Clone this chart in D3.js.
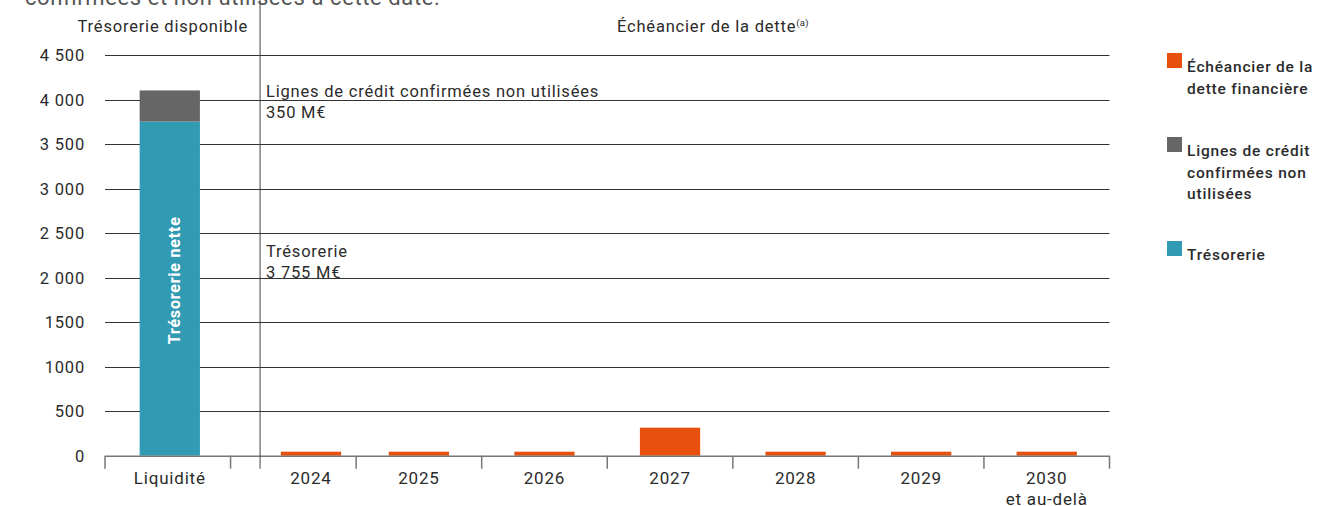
<!DOCTYPE html>
<html>
<head>
<meta charset="utf-8">
<script src="https://cdn.jsdelivr.net/npm/d3@7"></script>
<style>
  body { margin: 0; background: #fff; }
  svg { display: block; font-family: Roboto, "Noto Sans", sans-serif; letter-spacing: 0.8px; }
</style>
</head>
<body>
<svg width="1319" height="506"></svg>
<script>
const svg = d3.select("svg");

// data
const categories = ["Liquidité", "2024", "2025", "2026", "2027", "2028", "2029", "2030"];
const tresorerie = [3755, 0, 0, 0, 0, 0, 0, 0];
const lignesCredit = [350, 0, 0, 0, 0, 0, 0, 0];
const echeancier = [0, 45, 45, 45, 315, 45, 45, 45];
const yTicks = [0, 500, 1000, 1500, 2000, 2500, 3000, 3500, 4000, 4500];
const yTickLabels = ["0", "500", "1000", "1500", "2 000", "2 500", "3 000", "3 500", "4 000", "4 500"];

const orange = "#E8500E", grey = "#666666", teal = "#319BB4", ink = "#2b2b2b";

// scales
const x = d3.scaleBand().domain(categories).range([105, 1109.5]).padding(0);
const y = d3.scaleLinear().domain([0, 4500]).range([455.7, 55.3]);
const sepX = x("2024") + x.bandwidth() * 0.235;   // separator between liquidity and debt schedule
const barW = x.bandwidth() * 0.48;

function center(d) {
  if (d === "2024") return sepX + 0.53 * (x(d) + x.bandwidth() - sepX);
  return x(d) + x.bandwidth() / 2 + (d === "Liquidité" ? 2 : 0);
}

// cut-off text from above
svg.append("text")
  .attr("x", 25).attr("y", 5)
  .attr("font-size", 22).attr("fill", "#555").attr("letter-spacing", 0.6)
  .text("confirmées et non utilisées à cette date.");

// gridlines
svg.append("g").selectAll("line").data(yTicks.filter(d => d > 0)).join("line")
  .attr("x1", x.range()[0]).attr("x2", x.range()[1])
  .attr("y1", d => Math.round(y(d)) + 0.5).attr("y2", d => Math.round(y(d)) + 0.5)
  .attr("stroke", "#333").attr("stroke-width", 1);

// y labels
svg.append("g").selectAll("text").data(yTicks).join("text")
  .attr("x", 85).attr("y", d => y(d) + 6)
  .attr("text-anchor", "end")
  .attr("font-size", 16.5).attr("fill", ink)
  .text((d, i) => yTickLabels[i]);

// stacked liquidity bar
const liq = categories.map((c, i) => ({ c, tres: tresorerie[i], lig: lignesCredit[i] })).filter(d => d.tres > 0);
svg.append("g").selectAll("rect").data(liq).join("rect")
  .attr("x", d => center(d.c) - barW / 2).attr("width", barW)
  .attr("y", d => y(d.tres)).attr("height", d => y(0) - y(d.tres))
  .attr("fill", teal);
svg.append("g").selectAll("rect").data(liq).join("rect")
  .attr("x", d => center(d.c) - barW / 2).attr("width", barW)
  .attr("y", d => y(d.tres + d.lig)).attr("height", d => y(d.tres) - y(d.tres + d.lig))
  .attr("fill", grey);

// "Trésorerie nette" inside bar
svg.append("g").selectAll("text").data(liq).join("text")
  .attr("transform", d => `translate(${center(d.c) + 10},${y(d.tres * 0.525)}) rotate(-90)`)
  .attr("text-anchor", "middle")
  .attr("font-size", 16).attr("font-weight", "bold").attr("fill", "#fff")
  .text("Trésorerie nette");

// debt schedule bars
const debt = categories.map((c, i) => ({ c, v: echeancier[i] })).filter(d => d.v > 0);
svg.append("g").selectAll("rect").data(debt).join("rect")
  .attr("x", d => center(d.c) - barW / 2).attr("width", barW)
  .attr("y", d => y(d.v)).attr("height", d => y(0) - y(d.v))
  .attr("fill", orange);

// baseline and ticks
svg.append("line")
  .attr("x1", x.range()[0]).attr("x2", x.range()[1])
  .attr("y1", y(0) + 0.5).attr("y2", y(0) + 0.5)
  .attr("stroke", "#777").attr("stroke-width", 1.5);
const tickPos = categories.map(c => x(c)).concat([x.range()[1]]);
svg.append("g").selectAll("line").data(tickPos).join("line")
  .attr("x1", d => d).attr("x2", d => d)
  .attr("y1", y(0)).attr("y2", y(0) + 13)
  .attr("stroke", "#777").attr("stroke-width", 1.5);

// separator
svg.append("line")
  .attr("x1", sepX).attr("x2", sepX)
  .attr("y1", 0).attr("y2", y(0) + 13)
  .attr("stroke", "#444").attr("stroke-width", 1);

// x labels
svg.append("g").selectAll("text").data(categories).join("text")
  .attr("x", d => center(d)).attr("y", 484)
  .attr("text-anchor", "middle")
  .attr("font-size", 17).attr("fill", ink)
  .text(d => d);
svg.append("text")
  .attr("x", center("2030")).attr("y", 505)
  .attr("text-anchor", "middle")
  .attr("font-size", 17).attr("fill", ink)
  .text("et au-delà");

// section headers
svg.append("text")
  .attr("x", center("Liquidité") - 7).attr("y", 32)
  .attr("text-anchor", "middle")
  .attr("font-size", 16.5).attr("fill", ink)
  .text("Trésorerie disponible");
const head2 = svg.append("text")
  .attr("x", 617).attr("y", 32)
  .attr("font-size", 16.5).attr("fill", ink);
head2.append("tspan").text("Échéancier de la dette");
head2.append("tspan").attr("font-size", 9.5).attr("dy", -6).attr("letter-spacing", 0.3).text("(a)");

// annotations
svg.append("text").attr("x", 266).attr("y", y(4105) + 7)
  .attr("font-size", 16.5).attr("fill", ink)
  .text("Lignes de crédit confirmées non utilisées");
svg.append("text").attr("x", 266).attr("y", y(4105) + 28)
  .attr("font-size", 16.5).attr("fill", ink)
  .text("350 M€");
svg.append("text").attr("x", 266).attr("y", y(2230))
  .attr("font-size", 16.5).attr("fill", ink)
  .text("Trésorerie");
svg.append("text").attr("x", 266).attr("y", y(2230) + 21)
  .attr("font-size", 16.5).attr("fill", ink)
  .text("3 755 M€");

// legend
const legend = [
  { color: orange, lines: ["Échéancier de la", "dette financière"], y: 53 },
  { color: grey, lines: ["Lignes de crédit", "confirmées non", "utilisées"], y: 137 },
  { color: teal, lines: ["Trésorerie"], y: 241 }
];
const lg = svg.append("g").selectAll("g").data(legend).join("g")
  .attr("transform", d => `translate(1167,${d.y})`);
lg.append("rect").attr("width", 15).attr("height", 15).attr("fill", d => d.color);
lg.append("text")
  .attr("font-size", 15.5).attr("font-weight", 500).attr("fill", ink)
  .selectAll("tspan").data(d => d.lines).join("tspan")
  .attr("x", 20).attr("y", (d, i) => 19 + i * 21.5)
  .text(d => d);
</script>
</body>
</html>
